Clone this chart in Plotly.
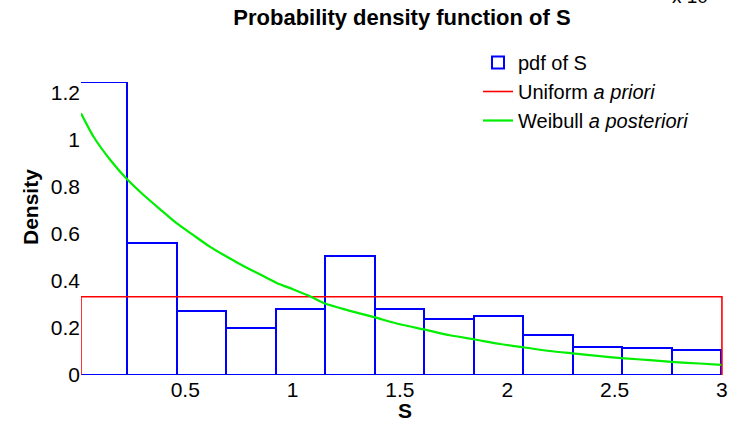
import plotly.graph_objects as go

# ---------------- data ----------------
bin_edges = [0.0, 0.2305, 0.4610, 0.6915, 0.9220, 1.1525, 1.3830, 1.6135,
             1.8440, 2.0745, 2.3050, 2.5355, 2.7660, 2.9965]
pdf_values = [1.247, 0.563, 0.272, 0.202, 0.281, 0.506, 0.280, 0.237,
              0.252, 0.171, 0.119, 0.117, 0.108]

uniform_x = [0.0144, 0.0144, 3.0, 3.0]
uniform_y = [0.0, 1 / 3, 1 / 3, 0.0]

weibull_x = [0.0144, 0.073, 0.151, 0.228, 0.306, 0.383, 0.461, 0.538, 0.616,
             0.694, 0.771, 0.849, 0.926, 1.004, 1.081, 1.151, 1.267, 1.384,
             1.500, 1.617, 1.733, 1.849, 1.966, 2.082, 2.198, 2.315, 2.431,
             2.547, 2.664, 2.780, 2.896, 2.997]
weibull_y = [1.114, 1.014, 0.915, 0.834, 0.766, 0.705, 0.645, 0.595, 0.545,
             0.503, 0.464, 0.428, 0.392, 0.364, 0.335, 0.304, 0.273, 0.245,
             0.216, 0.193, 0.169, 0.151, 0.132, 0.117, 0.102, 0.091, 0.080,
             0.071, 0.063, 0.055, 0.049, 0.043]

x_ticks = [0.5, 1, 1.5, 2, 2.5, 3]
x_ticklabels = ["0.5", "1", "1.5", "2", "2.5", "3"]
y_ticks = [0, 0.2, 0.4, 0.6, 0.8, 1.0, 1.2]
y_ticklabels = ["0", "0.2", "0.4", "0.6", "0.8", "1", "1.2"]

# ---------------- figure ----------------
FONT = "Liberation Sans, Arial, Helvetica, sans-serif"
W, H = 739, 423
ML, MR, MT, MB = 81, 16, 82, 48
PW, PH = W - ML - MR, H - MT - MB

centers = [(a + b) / 2 for a, b in zip(bin_edges[:-1], bin_edges[1:])]
widths = [b - a for a, b in zip(bin_edges[:-1], bin_edges[1:])]

fig = go.Figure()
fig.add_trace(go.Bar(
    x=centers, y=pdf_values, width=widths, name="pdf of S",
    marker=dict(color="rgba(0,0,0,0)", line=dict(color="#0000ff", width=2)),
))
fig.add_trace(go.Scatter(
    x=uniform_x, y=uniform_y, mode="lines", name="Uniform <i>a priori</i>",
    line=dict(color="#ff0000", width=1.6),
))
fig.add_trace(go.Scatter(
    x=weibull_x, y=weibull_y, mode="lines", name="Weibull <i>a posteriori</i>",
    line=dict(color="#00ee00", width=2.2, shape="spline", smoothing=0.6),
))


def px_x(p):
    return (p - ML) / PW


def px_y(p):
    return 1 - (p - MT) / PH


fig.update_layout(
    width=W, height=H,
    margin=dict(l=ML, r=MR, t=MT, b=MB, pad=0),
    paper_bgcolor="white", plot_bgcolor="white",
    font=dict(family=FONT, size=21, color="black"),
    bargap=0,
    showlegend=True,
    legend=dict(
        x=px_x(478), y=px_y(43), xanchor="left", yanchor="top",
        bgcolor="rgba(0,0,0,0)", font=dict(size=20, family=FONT),
        tracegroupgap=0, itemwidth=30,
    ),
    title=dict(
        text="<b>Probability density function of S</b>",
        x=0.5, xref="paper", y=1 - 17.5 / H, yref="container",
        xanchor="center", yanchor="middle",
        font=dict(size=22, family=FONT, color="black"),
    ),
    xaxis=dict(
        range=[0.0144, 3.005], showgrid=False, zeroline=False, showline=False,
        ticks="", tickvals=x_ticks, ticktext=x_ticklabels,
        tickfont=dict(size=21), fixedrange=True,
    ),
    yaxis=dict(
        range=[0, 1.247], showgrid=False, zeroline=False, showline=False,
        ticks="", tickvals=y_ticks, ticktext=y_ticklabels,
        tickfont=dict(size=21), fixedrange=True,
    ),
    annotations=[
        dict(text="<b>S</b>", x=px_x(405), y=px_y(410), xref="paper", yref="paper",
             showarrow=False, xanchor="center", yanchor="middle",
             font=dict(size=21, family=FONT)),
        dict(text="<b>Density</b>", x=px_x(30), y=px_y(207), xref="paper", yref="paper",
             showarrow=False, xanchor="center", yanchor="middle", textangle=-90,
             font=dict(size=21, family=FONT)),
        dict(text="x 10", x=px_x(690), y=px_y(-4), xref="paper", yref="paper",
             showarrow=False, xanchor="center", yanchor="middle",
             font=dict(size=19, family=FONT)),
    ],
)

fig.write_html("out.html")
